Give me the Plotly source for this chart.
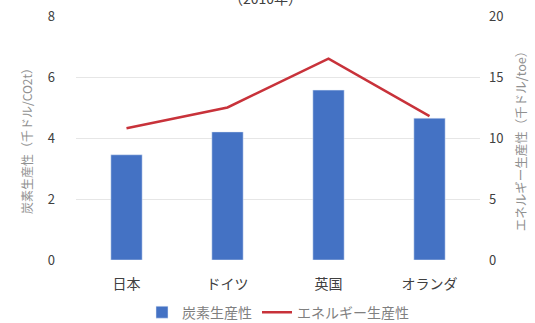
import plotly.graph_objects as go

categories = ["日本", "ドイツ", "英国", "オランダ"]
carbon_productivity = [3.45, 4.2, 5.57, 4.65]
energy_productivity = [10.8, 12.5, 16.5, 11.8]
left_ticks = [0, 2, 4, 6, 8]
right_ticks = [0, 5, 10, 15, 20]

font = "Noto Sans CJK JP, Noto Sans, sans-serif"

fig = go.Figure()
fig.add_trace(go.Bar(
    x=categories, y=carbon_productivity, name="炭素生産性",
    marker=dict(color="#4472C4"), yaxis="y"))
fig.add_trace(go.Scatter(
    x=categories, y=energy_productivity, name="エネルギー生産性",
    mode="lines", line=dict(color="#C8323A", width=2.5), yaxis="y2"))

fig.update_layout(
    width=535, height=323,
    margin=dict(l=76, r=55, t=16, b=63, autoexpand=False),
    paper_bgcolor="white", plot_bgcolor="white",
    font=dict(family=font, size=13, color="#404040"),
    bargap=0.69,
    showlegend=True,
    legend=dict(orientation="h", x=0.5, xanchor="center", y=-0.15, yanchor="top",
                font=dict(size=14, color="#808080"), itemwidth=30,
                tracegroupgap=0),
    xaxis=dict(showgrid=False, showline=False, ticks="", ticklabelstandoff=14,
               tickfont=dict(size=14, color="#404040")),
    yaxis=dict(range=[0, 8], tickvals=left_ticks, showgrid=True, gridcolor="#E6E6E6",
               zeroline=False, showline=False, ticks="", ticklabelstandoff=20,
               title=dict(text="炭素生産性（千ドル/CO2t）", font=dict(size=12, color="#909090"), standoff=12)),
    yaxis2=dict(range=[0, 20], tickvals=right_ticks, overlaying="y", side="right",
                showgrid=False, zeroline=False, showline=False, ticks="", ticklabelstandoff=8,
                title=dict(text="エネルギー生産性（千ドル/toe）", font=dict(size=12.5, color="#909090"), standoff=14)),
)
fig.add_annotation(text="（2010年）", xref="paper", yref="paper", x=0.47, y=1.0,
                   yshift=6, yanchor="bottom", showarrow=False,
                   font=dict(size=14, color="#404040"))

fig.write_html("out.html")
